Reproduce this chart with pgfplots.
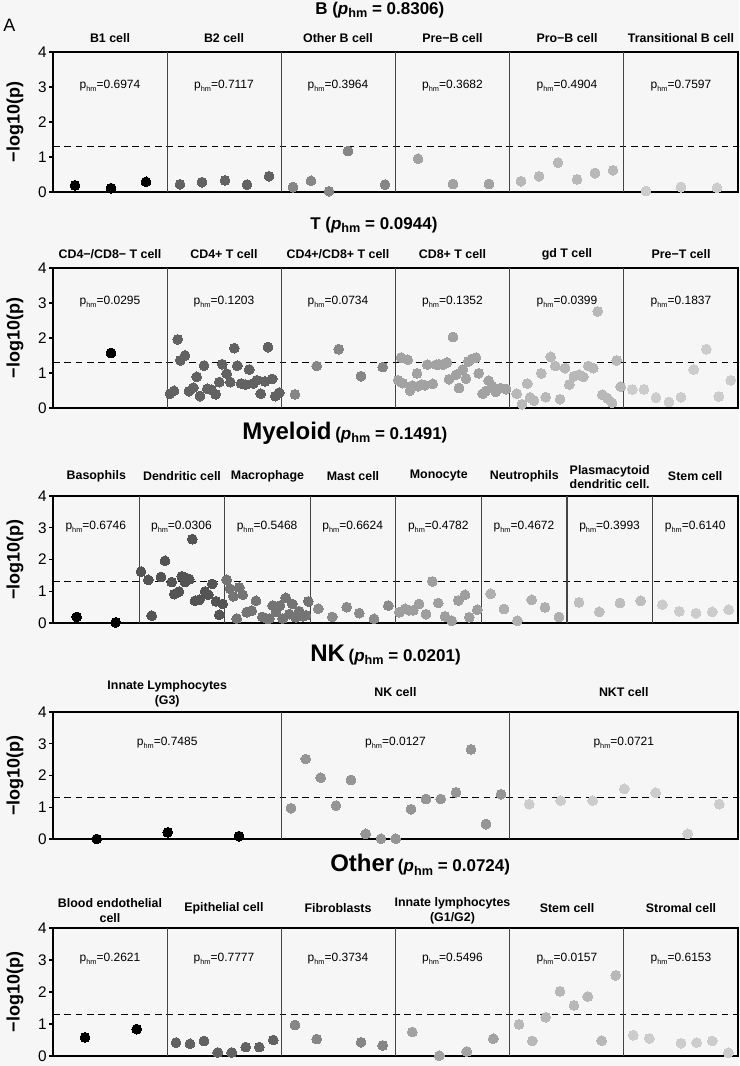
\documentclass[border=0pt]{standalone}
\usepackage{pgfplots}
\pgfplotsset{compat=1.18}
\usepackage{fontspec}
\setmainfont{Liberation Sans}
\definecolor{bgc}{HTML}{F6F6F6}
\definecolor{sep}{HTML}{444444}
% grey palettes (6 panels)
\definecolor{sA}{RGB}{0,0,0}
\definecolor{sB}{RGB}{98,98,98}
\definecolor{sC}{RGB}{134,134,134}
\definecolor{sD}{RGB}{162,162,162}
\definecolor{sE}{RGB}{184,184,184}
\definecolor{sF}{RGB}{204,204,204}
% 8 panels
\definecolor{eA}{RGB}{0,0,0}
\definecolor{eB}{RGB}{84,84,84}
\definecolor{eC}{RGB}{116,116,116}
\definecolor{eD}{RGB}{139,139,139}
\definecolor{eE}{RGB}{158,158,158}
\definecolor{eF}{RGB}{175,175,175}
\definecolor{eG}{RGB}{190,190,190}
\definecolor{eH}{RGB}{204,204,204}
% 3 panels
\definecolor{tA}{RGB}{0,0,0}
\definecolor{tB}{RGB}{149,149,149}
\definecolor{tC}{RGB}{204,204,204}
\newcommand{\phm}[1]{p\raisebox{-0.45ex}{\fontsize{5.5}{5.5}\selectfont hm}=#1}
\newcommand{\gphm}[1]{(\textit{p}\raisebox{-0.35ex}{\fontsize{9.5}{9.5}\selectfont hm} = #1)}
\newcommand{\PL}[2]{\node[font=\fontsize{9}{9}\selectfont] at (axis cs:#1,3.03) {\phm{#2}};}
\newcommand{\SEP}[1]{\draw[sep, line width=0.8pt] (axis cs:#1,0) -- (axis cs:#1,4);}
\newcommand{\THR}{\draw[dash pattern=on 5pt off 3.5pt, line width=0.7pt] (axis cs:53,1.301) -- (axis cs:738,1.301);}
\pgfplotsset{
  rowax/.style={scale only axis, width=513.75pt, xmin=53, xmax=738, ymin=0, ymax=4,
    ytick={0,1,2,3,4}, xtick=\empty, ytick pos=left, tick align=outside,
    major tick length=3pt, axis line style={line width=0.8pt, black},
    ytick style={line width=0.8pt, black},
    yticklabel style={font=\fontsize{11.5}{11.5}\selectfont, inner xsep=1.5pt},
    /pgf/number format/assume math mode=true, clip=false, anchor=south west},
  pts/.style={only marks, color=#1, mark=*, mark size=3.7pt, mark options={draw=#1, fill=#1, line width=0pt}},
}
\begin{document}
\begin{tikzpicture}
\path[fill=bgc, use as bounding box] (0pt,0pt) rectangle (554.25pt,-799.5pt);

% ---------- Row 1: B ----------
\begin{axis}[rowax, height=105pt, at={(39.75pt,-144pt)}]
\addplot[pts=sA] coordinates {(75,0.19) (111,0.11) (146,0.29)};
\addplot[pts=sB] coordinates {(180,0.22) (202,0.28) (225,0.33) (247,0.21) (269,0.45)};
\addplot[pts=sC] coordinates {(293,0.14) (311,0.32) (329,0.02) (348,1.17) (385,0.21)};
\addplot[pts=sD] coordinates {(418,0.95) (453,0.23) (489,0.23)};
\addplot[pts=sE] coordinates {(521,0.31) (539,0.45) (558,0.84) (577,0.36) (595,0.54) (613,0.62)};
\addplot[pts=sF] coordinates {(646,0.03) (681,0.14) (717,0.12)};
\THR
\SEP{167.2}\SEP{281.3}\SEP{395.5}\SEP{509.7}\SEP{623.8}
\PL{110}{0.6974}\PL{224}{0.7117}\PL{338}{0.3964}\PL{452.5}{0.3682}\PL{567}{0.4904}\PL{681}{0.7597}
\end{axis}

% ---------- Row 2: T ----------
\begin{axis}[rowax, height=105pt, at={(39.75pt,-306pt)}]
\addplot[pts=sA] coordinates {(111,1.57)};
\addplot[pts=sB] coordinates {(177.7,1.96) (170,0.41) (174,0.49) (180.3,1.36) (185,1.50) (189,0.48) (193.3,0.58) (196.7,0.89) (200,0.34) (204,1.21) (207.3,0.55) (211.7,0.52) (215.7,0.39) (219.3,0.74) (222.3,1.25) (226.7,0.98) (230.3,0.74) (234.3,1.71) (237.3,1.21) (241.3,0.70) (245.7,0.67) (249.3,1.10) (253.3,0.70) (256.7,0.79) (260.7,0.41) (265,0.76) (268,1.74) (272.3,0.83) (275.3,0.34) (279.3,0.44)};
\addplot[pts=sC] coordinates {(295,0.39) (316.7,1.20) (338.7,1.68) (361,0.91) (382.7,1.17)};
\addplot[pts=sD] coordinates {(398.3,0.79) (401,1.44) (402.7,0.71) (407.7,1.38) (410,0.50) (412.3,0.64) (417,0.99) (417.7,0.62) (421.7,0.67) (425,0.65) (427.3,1.24) (432.7,0.69) (436.3,1.24) (439.3,1.25) (442.7,1.24) (447,1.30) (449,0.82) (453,2.03) (456,0.95) (459,0.57) (462.7,1.10) (466,0.84) (468.3,1.33) (471.7,1.40) (476,1.44) (478.7,0.99) (482.7,0.41) (485.7,0.48) (488.7,0.78) (492.3,0.62) (495.7,0.46) (500.7,0.57) (506,0.54)};
\addplot[pts=sE] coordinates {(516.7,0.41) (522,0.11) (527.3,0.70) (530,0.30) (534,0.21) (541.3,0.99) (545.7,0.31) (550.7,1.46) (555.3,1.20) (560,0.25) (565,1.14) (569.3,0.67) (574,0.91) (579,0.95) (583.3,0.89) (588.3,1.20) (593.3,1.14) (597.7,2.76) (602.3,0.38) (607.3,0.28) (612,0.15) (616.7,1.36) (620.7,0.61)};
\addplot[pts=sF] coordinates {(632.3,0.53) (644,0.53) (656,0.30) (669,0.17) (681,0.31) (693.7,1.10) (706.3,1.68) (718.7,0.33) (730.7,0.79)};
\THR
\SEP{167.2}\SEP{281.3}\SEP{395.5}\SEP{509.7}\SEP{623.8}
\PL{110}{0.0295}\PL{224}{0.1203}\PL{338}{0.0734}\PL{452.5}{0.1352}\PL{567}{0.0399}\PL{681}{0.1837}
\end{axis}

% ---------- Row 3: Myeloid ----------
\begin{axis}[rowax, height=95.25pt, at={(39.75pt,-467.25pt)}]
\addplot[pts=eA] coordinates {(76.7,0.19) (115.7,0.02)};
\addplot[pts=eB] coordinates {(141,1.62) (148.3,1.36) (151.7,0.23) (161,1.45) (165,1.96) (171.7,1.29) (174.3,0.91) (179,0.99) (181.7,1.47) (185,1.29) (186.7,1.41) (189.3,1.38) (192.3,2.64) (195,0.70) (199.3,0.73) (205,0.99) (208.3,0.89) (212.3,1.23) (216,0.68) (219.3,0.26) (222.7,0.60)};
\addplot[pts=eC] coordinates {(226.7,1.36) (230,1.08) (233.3,0.84) (239.3,1.12) (242.7,0.89) (236.7,0.14) (246.7,0.34) (251.7,0.39) (256,0.70) (262.3,0.19) (266.7,0.14) (269.3,0.14) (272.7,0.55) (276,0.35) (280,0.55) (282.7,0.14) (285.7,0.79) (289.3,0.28) (292.3,0.60) (295.7,0.18) (299,0.37) (303.3,0.21) (306,0.24) (308.3,0.68)};
\addplot[pts=eD] coordinates {(318.3,0.45) (332.3,0.19) (346.7,0.50) (359.3,0.31) (374,0.13) (388.3,0.55)};
\addplot[pts=eE] coordinates {(399.3,0.34) (405,0.45) (409.3,0.40) (413.3,0.40) (419,0.60) (426,0.28) (432.3,1.31) (438.3,0.63) (445,0.21) (451.7,0.07) (458.3,0.71) (465,0.89) (469.3,0.18) (477.3,0.42)};
\addplot[pts=eF] coordinates {(490.7,0.92) (504,0.44) (517.3,0.07) (531.7,0.73) (545,0.49) (559,0.19)};
\addplot[pts=eG] coordinates {(579,0.65) (599.3,0.35) (620,0.63) (640.7,0.70)};
\addplot[pts=eH] coordinates {(662.3,0.58) (679.3,0.37) (696,0.31) (712.3,0.35) (728.7,0.42)};
\THR
\SEP{139.6}\SEP{224.8}\SEP{310.4}\SEP{395.5}\SEP{481.6}\SEP{567}\SEP{652.4}
\PL{95.8}{0.6746}\PL{181.4}{0.0306}\PL{267.1}{0.5468}\PL{352.7}{0.6624}\PL{438.3}{0.4782}\PL{524}{0.4672}\PL{609.6}{0.3993}\PL{695.2}{0.6140}
\end{axis}

% ---------- Row 4: NK ----------
\begin{axis}[rowax, height=95.25pt, at={(39.75pt,-629.25pt)}]
\addplot[pts=tA] coordinates {(96.7,0.0) (167.7,0.21) (239,0.09)};
\addplot[pts=tB] coordinates {(291,0.97) (305.7,2.52) (320.7,1.93) (336,1.05) (351,1.86) (365.7,0.16) (381,0.01) (395.7,0.01) (411,0.94) (426,1.26) (440.7,1.26) (456,1.47) (471,2.82) (486,0.47) (501,1.41)};
\addplot[pts=tC] coordinates {(529.3,1.10) (560.7,1.21) (592.7,1.21) (624.3,1.58) (655.7,1.46) (687.7,0.16) (719.3,1.10)};
\THR
\SEP{281.3}\SEP{509.7}
\PL{167.2}{0.7485}\PL{395.5}{0.0127}\PL{623.8}{0.0721}
\end{axis}

% ---------- Row 5: Other ----------
\begin{axis}[rowax, height=96pt, at={(39.75pt,-792pt)}]
\addplot[pts=sA] coordinates {(85,0.58) (136.7,0.84)};
\addplot[pts=sB] coordinates {(176,0.42) (190,0.38) (204,0.47) (217.7,0.11) (231.7,0.11) (245.7,0.28) (259.3,0.28) (273.3,0.50)};
\addplot[pts=sC] coordinates {(295,0.97) (316.7,0.53) (361,0.43) (382.7,0.33)};
\addplot[pts=sD] coordinates {(412.3,0.75) (439.3,0.01) (466.7,0.14) (493.3,0.54)};
\addplot[pts=sE] coordinates {(519,0.99) (532.3,0.47) (545.7,1.21) (560,2.02) (574,1.58) (587.7,1.86) (601.7,0.48) (615.7,2.52)};
\addplot[pts=sF] coordinates {(633.3,0.65) (649.3,0.55) (681,0.40) (696.7,0.42) (712.3,0.47) (728.3,0.10)};
\THR
\SEP{167.2}\SEP{281.3}\SEP{395.5}\SEP{509.7}\SEP{623.8}
\PL{110}{0.2621}\PL{224}{0.7777}\PL{338}{0.3734}\PL{452.5}{0.5496}\PL{567}{0.0157}\PL{681}{0.6153}
\end{axis}

% ---------- Texts (pixel coordinates) ----------
\begin{scope}[x=0.75pt, y=-0.75pt]
\node[anchor=west, font=\fontsize{13.5}{13.5}\selectfont, inner sep=0pt] at (3,25) {A};
% group titles
\node[anchor=west, font=\bfseries\fontsize{12.75}{12.75}\selectfont, inner sep=0pt] at (315,10) {B \gphm{0.8306}};
\node[anchor=west, font=\bfseries\fontsize{12.75}{12.75}\selectfont, inner sep=0pt] at (310,225) {T \gphm{0.0944}};
\node[anchor=west, font=\bfseries, inner sep=0pt] at (242,433) {{\fontsize{18}{18}\selectfont Myeloid} {\fontsize{12.75}{12.75}\selectfont\gphm{0.1491}}};
\node[anchor=west, font=\bfseries, inner sep=0pt] at (310,655) {{\fontsize{18}{18}\selectfont NK} {\fontsize{12.75}{12.75}\selectfont\gphm{0.0201}}};
\node[anchor=west, font=\bfseries, inner sep=0pt] at (330,865) {{\fontsize{18}{18}\selectfont Other} {\fontsize{12.75}{12.75}\selectfont\gphm{0.0724}}};
% y labels
\foreach \yy in {122,338,559.5,775.5,992} {\node[rotate=90, font=\bfseries\fontsize{13.5}{13.5}\selectfont, inner sep=0pt] at (15,\yy) {−log10(p)};}
% panel titles
\begin{scope}[every node/.style={font=\bfseries\fontsize{9.3}{11}\selectfont, align=center, inner sep=0pt}]
\node at (110,38) {B1 cell};
\node at (224,38) {B2 cell};
\node at (338,38) {Other B cell};
\node at (452.5,38) {Pre−B cell};
\node at (567,38) {Pro−B cell};
\node at (681,38) {Transitional B cell};
\node at (110,254) {CD4−/CD8− T cell};
\node at (224,254) {CD4+ T cell};
\node at (338,254) {CD4+/CD8+ T cell};
\node at (452.5,254) {CD8+ T cell};
\node at (567,254) {gd T cell};
\node at (681,254) {Pre−T cell};
\node at (96.3,476) {Basophils};
\node at (182,476) {Dendritic cell};
\node at (267.5,476) {Macrophage};
\node at (353,476) {Mast cell};
\node at (438.8,476) {Monocyte};
\node at (524.3,476) {Neutrophils};
\node at (609.7,477) {Plasmacytoid\\dendritic cell.};
\node at (695.2,476) {Stem cell};
\node at (167.2,694) {Innate Lymphocytes\\(G3)};
\node at (395.5,692) {NK cell};
\node at (623.8,692) {NKT cell};
\node at (110,910.5) {Blood endothelial\\cell};
\node at (224,908) {Epithelial cell};
\node at (338,908) {Fibroblasts};
\node at (452.5,910.5) {Innate lymphocytes\\(G1/G2)};
\node at (567,908) {Stem cell};
\node at (681,908) {Stromal cell};
\end{scope}
\end{scope}
\end{tikzpicture}
\end{document}
